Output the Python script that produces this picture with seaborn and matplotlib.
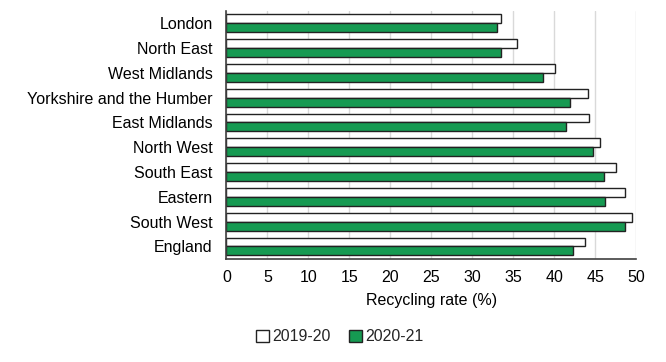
import pandas as pd
import matplotlib.pyplot as plt
import seaborn as sns

regions = ['London', 'North East', 'West Midlands', 'Yorkshire and the Humber',
           'East Midlands', 'North West', 'South East', 'Eastern', 'South West', 'England']
rate_2019_20 = [33.5, 35.5, 40.1, 44.1, 44.2, 45.6, 47.6, 48.6, 49.5, 43.8]
rate_2020_21 = [33.0, 33.5, 38.7, 41.9, 41.4, 44.7, 46.1, 46.2, 48.7, 42.3]
years = ['2019-20', '2020-21']

df = pd.DataFrame({
    'Region': regions * 2,
    'Rate': rate_2019_20 + rate_2020_21,
    'Year': [years[0]] * len(regions) + [years[1]] * len(regions),
})

sns.set_theme(style='white')
plt.rcParams['font.family'] = ['Liberation Sans', 'DejaVu Sans']

fig, ax = plt.subplots(figsize=(6.66, 3.62), dpi=100)
sns.barplot(data=df, y='Region', x='Rate', hue='Year', order=regions, hue_order=years,
            palette={'2019-20': 'white', '2020-21': '#00B050'}, width=0.72,
            edgecolor='#222222', linewidth=1.0, ax=ax)

ax.set_xlim(0, 50)
ax.set_xticks(range(0, 51, 5))
ax.xaxis.grid(True, color='#d9d9d9', linewidth=1)
ax.set_axisbelow(True)
ax.set_ylabel('')
ax.set_xlabel('Recycling rate (%)', fontsize=11.5, color='#000000', labelpad=6)
ax.tick_params(axis='both', labelsize=11.5, colors='#000000', length=0)
ax.tick_params(axis='x', pad=8)
ax.tick_params(axis='y', pad=10)
for s in ['top', 'right']:
    ax.spines[s].set_visible(False)
for s in ['left', 'bottom']:
    ax.spines[s].set_color('#404040')
    ax.spines[s].set_linewidth(1.2)

handles, labels = ax.get_legend_handles_labels()
ax.legend_.remove()
fig.legend(handles, labels, loc='center', bbox_to_anchor=(0.51, 0.07), ncol=2, frameon=False,
           fontsize=11.5, handlelength=0.8, handleheight=0.8, handletextpad=0.2,
           columnspacing=1.2)

fig.subplots_adjust(left=0.34, right=0.955, top=0.97, bottom=0.285)
fig.savefig('out.png', dpi=100)
